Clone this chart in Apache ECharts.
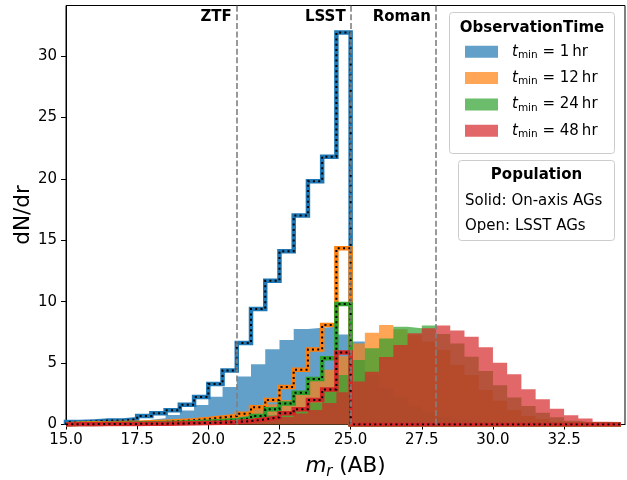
<!DOCTYPE html>
<html>
<head>
<meta charset="utf-8">
<script src="https://cdn.jsdelivr.net/npm/echarts@6/dist/echarts.min.js"></script>
<style>
  html, body { margin: 0; padding: 0; background: #ffffff; }
  #chart { width: 627px; height: 480px; }
</style>
</head>
<body>
<div id="chart"></div>
<script>
// Magnitude bins (AB), 0.5 mag wide
const binEdges = [15.0, 15.5, 16.0, 16.5, 17.0, 17.5, 18.0, 18.5, 19.0, 19.5,
                  20.0, 20.5, 21.0, 21.5, 22.0, 22.5, 23.0, 23.5, 24.0, 24.5,
                  25.0, 25.5, 26.0, 26.5, 27.0, 27.5, 28.0, 28.5, 29.0, 29.5,
                  30.0, 30.5, 31.0, 31.5, 32.0, 32.5, 33.0, 33.5, 34.0, 34.5];

// On-axis afterglows (filled histograms), dN/dr per bin
const onAxis1hr  = [0.10, 0.14, 0.18, 0.21, 0.27, 0.38, 0.50, 0.78, 1.13, 1.59,
                    2.25, 3.05, 3.90, 4.90, 6.12, 6.87, 7.78, 7.88, 7.95, 7.32,
                    6.75, 4.00, 3.00, 2.20, 1.50, 1.00, 0.65, 0.40, 0.25, 0.15,
                    0.08, 0.05, 0.03, 0.02, 0.01, 0.00, 0.00, 0.00, 0.00];
const onAxis12hr = [0.02, 0.03, 0.04, 0.05, 0.07, 0.10, 0.13, 0.18, 0.25, 0.35,
                    0.50, 0.70, 0.95, 1.30, 1.65, 2.00, 2.40, 3.55, 4.45, 5.55,
                    6.60, 7.47, 8.10, 7.75, 7.30, 6.75, 6.07, 4.85, 4.03, 2.80,
                    1.94, 1.18, 0.70, 0.45, 0.22, 0.10, 0.05, 0.02, 0.01];
const onAxis24hr = [0.01, 0.02, 0.03, 0.04, 0.05, 0.06, 0.08, 0.10, 0.13, 0.17,
                    0.22, 0.30, 0.40, 0.55, 0.75, 1.00, 1.35, 1.80, 2.90, 4.03,
                    5.25, 6.20, 7.00, 7.96, 7.83, 8.05, 7.37, 6.60, 5.52, 4.36,
                    3.20, 2.20, 1.50, 0.96, 0.58, 0.30, 0.15, 0.06, 0.03];
const onAxis48hr = [0.01, 0.01, 0.02, 0.02, 0.03, 0.04, 0.05, 0.06, 0.08, 0.10,
                    0.13, 0.17, 0.22, 0.30, 0.42, 0.62, 0.90, 1.17, 1.75, 2.62,
                    3.50, 4.30, 5.50, 6.47, 7.43, 7.83, 8.05, 7.64, 7.15, 6.28,
                    5.03, 4.08, 2.86, 2.05, 1.29, 0.75, 0.48, 0.23, 0.20];

// LSST-detected afterglows (open step histograms)
const lsst1hr  = [0.20, 0.25, 0.32, 0.32, 0.42, 0.69, 0.91, 1.16, 1.60, 2.24,
                  3.30, 4.40, 6.64, 9.40, 11.70, 14.10, 17.00, 19.80, 21.80, 31.90,
                  0, 0, 0, 0, 0, 0, 0, 0, 0, 0, 0, 0, 0, 0, 0, 0, 0, 0, 0];
const lsst12hr = [0.08, 0.10, 0.10, 0.12, 0.15, 0.18, 0.22, 0.28, 0.35, 0.45,
                  0.57, 0.69, 0.88, 1.40, 2.00, 3.05, 4.46, 6.10, 8.10, 14.35,
                  0, 0, 0, 0, 0, 0, 0, 0, 0, 0, 0, 0, 0, 0, 0, 0, 0, 0, 0];
const lsst24hr = [0.04, 0.05, 0.06, 0.07, 0.08, 0.10, 0.12, 0.15, 0.18, 0.22,
                  0.28, 0.36, 0.50, 0.69, 1.24, 1.70, 2.59, 3.70, 5.39, 9.80,
                  0, 0, 0, 0, 0, 0, 0, 0, 0, 0, 0, 0, 0, 0, 0, 0, 0, 0, 0];
const lsst48hr = [0.03, 0.03, 0.04, 0.04, 0.05, 0.06, 0.07, 0.08, 0.10, 0.12,
                  0.15, 0.20, 0.28, 0.42, 0.58, 0.91, 1.24, 2.00, 2.85, 5.85,
                  0, 0, 0, 0, 0, 0, 0, 0, 0, 0, 0, 0, 0, 0, 0, 0, 0, 0, 0];

// Survey depth limits
const refMags  = [21, 25, 28];
const refNames = ['ZTF', 'LSST', 'Roman'];

// Observation times (hours) and tick labels
const obsHours = ['1', '12', '24', '48'];
const xTicks = [15, 17.5, 20, 22.5, 25, 27.5, 30, 32.5];
const yTicks = [0, 5, 10, 15, 20, 25, 30];

const lineColors = ['#1f77b4', '#ff7f0e', '#2ca02c', '#d62728'];
const fillColors = ['rgba(31,119,180,0.7)', 'rgba(255,127,14,0.7)',
                    'rgba(44,160,44,0.7)', 'rgba(214,39,40,0.7)'];

const X_MIN = 15, X_MAX = 34.64, Y_MIN = 0, Y_MAX = 34.1;
const FONT = '"DejaVu Sans", sans-serif';

// histogram outline: up the first edge, across each bin, down the last edge
function stepPoints(values) {
  const pts = [[binEdges[0], 0]];
  values.forEach((v, i) => { pts.push([binEdges[i], v], [binEdges[i + 1], v]); });
  pts.push([binEdges[binEdges.length - 1], 0]);
  return pts;
}

const seriesName = h => 't_min = ' + h + ' hr';

const filled = [onAxis1hr, onAxis12hr, onAxis24hr, onAxis48hr];
const open   = [lsst1hr, lsst12hr, lsst24hr, lsst48hr];

const series = [];
filled.forEach((vals, k) => {
  series.push({
    name: seriesName(obsHours[k]),
    type: 'line',
    data: stepPoints(vals),
    showSymbol: false,
    symbol: 'none',
    lineStyle: { width: 0 },
    itemStyle: { color: fillColors[k] },
    areaStyle: { color: fillColors[k], opacity: 1 },
    z: 2
  });
});
open.forEach((vals, k) => {
  const pts = stepPoints(vals);
  series.push({
    type: 'line', data: pts, showSymbol: false, symbol: 'none',
    lineStyle: { color: lineColors[k], width: 4.5, join: 'miter' },
    z: 3
  });
  series.push({
    type: 'line', data: pts, showSymbol: false, symbol: 'none',
    lineStyle: { color: '#000', width: 2, type: [2, 3.3], join: 'miter' },
    z: 3
  });
});
// survey limits: dashed verticals
series.push({
  type: 'line',
  data: [],
  silent: true,
  z: 5,
  markLine: {
    silent: true,
    symbol: ['none', 'none'],
    label: { show: false },
    lineStyle: { color: '#808080', type: [6, 2.6], width: 1.6 },
    data: refMags.map(m => ({ xAxis: m }))
  }
});

const legendRich = {
  it:  { fontFamily: FONT, fontStyle: 'italic', fontSize: 15, lineHeight: 18, verticalAlign: 'middle', padding: [0, 0, 0, 9], color: '#000' },
  sub: { fontFamily: FONT, fontSize: 10.5, lineHeight: 12, verticalAlign: 'bottom', color: '#000' },
  rm:  { fontFamily: FONT, fontSize: 15, lineHeight: 18, verticalAlign: 'middle', color: '#000' }
};

const legendBoxes = [
  { type: 'rect', z: 50, shape: { x: 449.5, y: 12.5, width: 165, height: 141, r: 3 },
    style: { fill: 'rgba(255,255,255,0.85)', stroke: '#cccccc', lineWidth: 1 } },
  { type: 'text', z: 60, style: { x: 532, y: 28, text: 'ObservationTime', align: 'center', verticalAlign: 'middle',
    font: 'bold 15px ' + FONT, fill: '#000' } },
  { type: 'rect', z: 50, shape: { x: 458.5, y: 160.5, width: 156, height: 80, r: 3 },
    style: { fill: 'rgba(255,255,255,0.85)', stroke: '#cccccc', lineWidth: 1 } },
  { type: 'text', z: 60, style: { x: 536.5, y: 175.5, text: 'Population', align: 'center', verticalAlign: 'middle',
    font: 'bold 15px ' + FONT, fill: '#000' } },
  { type: 'text', z: 60, style: { x: 465, y: 201.5, text: 'Solid: On-axis AGs', align: 'left', verticalAlign: 'middle',
    font: '15px ' + FONT, fill: '#000' } },
  { type: 'text', z: 60, style: { x: 465, y: 226.5, text: 'Open: LSST AGs', align: 'left', verticalAlign: 'middle',
    font: '15px ' + FONT, fill: '#000' } }
];

const option = {
  animation: false,
  backgroundColor: '#ffffff',
  grid: {
    left: 66, right: 2, top: 5.5, bottom: 55.5,
    outerBoundsMode: 'none',
    containLabel: false,
    show: true, borderColor: '#000', borderWidth: 1, backgroundColor: 'transparent'
  },
  xAxis: {
    type: 'value', min: X_MIN, max: X_MAX,
    name: '{it|m}{sub|r}{rm| (AB)}',
    nameLocation: 'middle', nameGap: 29,
    nameMoveOverlap: false,
    nameTextStyle: {
      rich: {
        it:  { fontFamily: FONT, fontStyle: 'italic', fontSize: 21.5, lineHeight: 26, verticalAlign: 'middle', color: '#000' },
        sub: { fontFamily: FONT, fontStyle: 'italic', fontSize: 15, lineHeight: 17, verticalAlign: 'bottom', color: '#000' },
        rm:  { fontFamily: FONT, fontSize: 21.5, lineHeight: 26, verticalAlign: 'middle', color: '#000' }
      }
    },
    axisLine: { show: true, onZero: false, lineStyle: { color: '#000', width: 1 } },
    axisTick: { show: true, inside: false, length: 5, customValues: xTicks, lineStyle: { color: '#000', width: 1 } },
    axisLabel: {
      customValues: xTicks, margin: 8,
      formatter: v => v.toFixed(1),
      fontFamily: FONT, fontSize: 15, color: '#000'
    },
    splitLine: { show: false }
  },
  yAxis: {
    type: 'value', min: Y_MIN, max: Y_MAX,
    name: 'dN/dr', nameLocation: 'middle', nameGap: 32,
    nameMoveOverlap: false,
    nameTextStyle: { fontFamily: FONT, fontSize: 21.5, color: '#000' },
    axisLine: { show: true, onZero: false, lineStyle: { color: '#000', width: 1 } },
    axisTick: { show: true, inside: false, length: 5, customValues: yTicks, lineStyle: { color: '#000', width: 1 } },
    axisLabel: { customValues: yTicks, margin: 9, fontFamily: FONT, fontSize: 15, color: '#000' },
    splitLine: { show: false }
  },
  legend: {
    orient: 'vertical',
    left: 465, top: 44.3,
    padding: 0,
    itemWidth: 33, itemHeight: 12, itemGap: 9.8,
    icon: 'rect',
    selectedMode: false,
    z: 60,
    data: obsHours.map((h, k) => ({ name: seriesName(h), itemStyle: { color: fillColors[k] } })),
    formatter: name => {
      const h = name.replace('t_min = ', '').replace(' hr', '');
      return '{it|t}{sub|min}{rm| = ' + h + '\u2009hr}';
    },
    textStyle: { rich: legendRich }
  },
  graphic: legendBoxes,
  series: series
};

const chart = echarts.init(document.getElementById('chart'), null, { renderer: 'canvas' });
chart.setOption(option);

// captions for the survey limits, placed just left of each dashed line at the top of the axes
const captions = refMags.map((m, i) => {
  const p = chart.convertToPixel({ gridIndex: 0 }, [m, Y_MAX]);
  return {
    type: 'text', z: 60,
    style: {
      x: p[0] - 5, y: p[1] + 4.5, text: refNames[i],
      align: 'right', verticalAlign: 'top',
      font: 'bold 15px ' + FONT, fill: '#000'
    }
  };
});
chart.setOption({ graphic: legendBoxes.concat(captions) });
</script>
</body>
</html>
